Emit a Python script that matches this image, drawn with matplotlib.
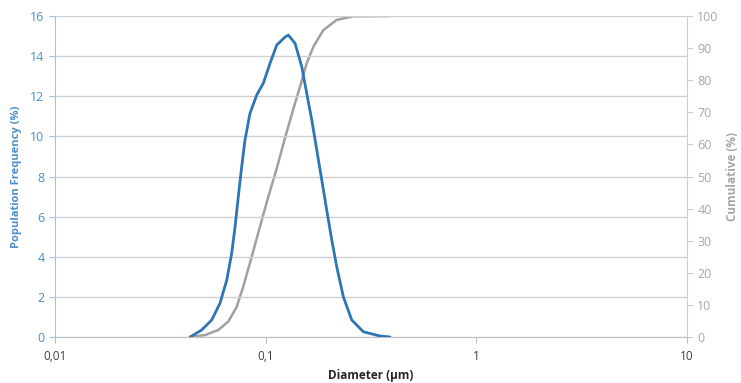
import matplotlib
matplotlib.use("Agg")
import matplotlib.pyplot as plt
from matplotlib.ticker import FixedLocator, FixedFormatter, NullLocator

plt.rcParams["font.family"] = ["Open Sans", "DejaVu Sans"]

# --- data ---
freq_d = [0.0438, 0.0497, 0.0555, 0.0607, 0.0654, 0.0690, 0.0716, 0.0742,
          0.0770, 0.0798, 0.0843, 0.0907, 0.0975, 0.1049, 0.1129, 0.1236,
          0.1282, 0.1379, 0.1484, 0.1567, 0.1656, 0.1749, 0.1847, 0.1950,
          0.2060, 0.2176, 0.2339, 0.2563, 0.2910, 0.3493, 0.3897]
freq_v = [0.0, 0.35, 0.85, 1.68, 2.84, 4.17, 5.5, 7.0,
          8.5, 9.82, 11.15, 12.06, 12.65, 13.64, 14.55, 14.95,
          15.05, 14.64, 13.48, 12.15, 10.82, 9.32, 7.83, 6.33,
          4.84, 3.5, 2.0, 0.85, 0.26, 0.05, 0.0]

cum_d = [0.0438, 0.0516, 0.0596, 0.0665, 0.0729, 0.0783, 0.0859, 0.0940,
         0.1030, 0.1129, 0.1236, 0.1353, 0.1457, 0.1567, 0.1684, 0.1879,
         0.2176, 0.2609, 0.3897]
cum_v = [0.0, 0.6, 2.2, 4.8, 9.4, 15.7, 25.0, 34.4,
         43.7, 52.5, 62.0, 71.0, 78.0, 85.3, 90.4, 95.6,
         98.8, 99.9, 100.0]

x_ticks = [0.01, 0.1, 1, 10]
x_labels = ["0,01", "0,1", "1", "10"]
left_ticks = list(range(0, 17, 2))
right_ticks = list(range(0, 101, 10))

BLUE = "#2E75B6"
BLUE_TXT = "#4A8FCB"
GREY_LINE = "#A0A0A0"
GREY_TXT = "#A6A6A6"
GRID = "#D0D0D0"
INK = "#404040"

fig = plt.figure(figsize=(7.41, 3.83), dpi=100)
ax = fig.add_axes([0.0742, 0.1201, 0.8528, 0.8381])
ax2 = ax.twinx()

ax.set_xscale("log")
ax.set_xlim(0.01, 10)
ax.set_ylim(0, 16)
ax2.set_ylim(0, 100)

ax.yaxis.grid(True, color=GRID, lw=1.0)
ax.set_axisbelow(True)

ax2.plot(cum_d, cum_v, color=GREY_LINE, lw=1.8, solid_capstyle="round",
         solid_joinstyle="round")
ax.plot(freq_d, freq_v, color=BLUE, lw=2.0, solid_capstyle="round",
        solid_joinstyle="round", zorder=5)
ax.set_zorder(ax2.get_zorder() + 1)
ax.patch.set_visible(False)

ax.xaxis.set_major_locator(FixedLocator(x_ticks))
ax.xaxis.set_major_formatter(FixedFormatter(x_labels))
ax.xaxis.set_minor_locator(NullLocator())
ax.set_yticks(left_ticks)
ax2.set_yticks(right_ticks)

ax.spines["top"].set_visible(False)
ax2.spines["top"].set_visible(False)
ax.spines["right"].set_visible(False)
ax2.spines["left"].set_visible(False)
ax2.spines["bottom"].set_visible(False)
ax.spines["left"].set_color("#9DC3E6")
ax.spines["bottom"].set_color("#BFBFBF")
ax2.spines["right"].set_color("#D0D0D0")

ax.tick_params(axis="y", colors=BLUE_TXT, labelsize=9, length=4, color="#9DC3E6")
ax.tick_params(axis="x", colors=INK, labelsize=8.5, length=4, color="#BFBFBF", pad=5)
ax2.tick_params(axis="y", colors=GREY_TXT, labelsize=9, length=4, color="#D0D0D0")

ax.set_ylabel("Population Frequency (%)", color=BLUE_TXT, fontsize=8,
              fontweight="bold", labelpad=6)
ax2.set_ylabel("Cumulative (%)", color=GREY_TXT, fontsize=8.5,
               fontweight="bold", labelpad=5)
ax.set_xlabel("Diameter (µm)", color="#262626", fontsize=8.5,
              fontweight="bold", labelpad=5)

fig.savefig("out.png", dpi=100, facecolor="white")
